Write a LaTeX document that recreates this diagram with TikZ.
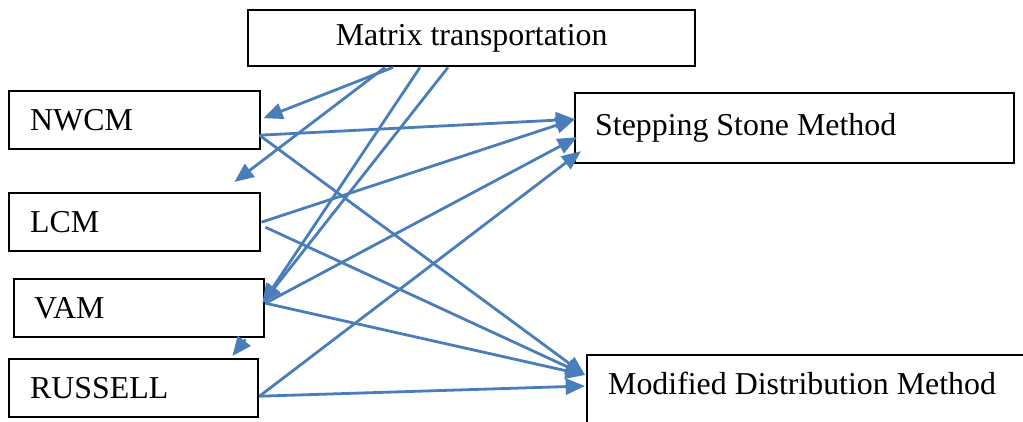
\documentclass[tikz,border=0pt]{standalone}
\usepackage{fontspec}
\setmainfont{Liberation Serif}
\usetikzlibrary{arrows.meta}
\definecolor{arrowblue}{RGB}{74,126,187}
\begin{document}
\begin{tikzpicture}[x=0.75pt,y=-0.75pt,
  box/.style={draw=black, line width=1.8pt, inner ysep=0pt, font=\fontsize{23.9}{28}\selectfont, anchor=north west, align=flush left},
  conn/.style={draw=arrowblue, line width=2.1pt, -{Triangle[length=14.5pt,width=12pt]}}]
\clip (0,0) rectangle (1023,421);
\useasboundingbox (0,0) rectangle (1023,421);
\fill[white] (0,0) rectangle (1023,421);

\node[box, align=flush center, minimum width=335.25pt, minimum height=42pt, inner xsep=7.6pt, text width=320pt] (mt) at (247,9) {Matrix transportation};
\node[box, minimum width=188.25pt, minimum height=43.5pt, inner xsep=15.75pt, text width=156.75pt] (nwcm) at (8,90) {NWCM};
\node[box, minimum width=188.25pt, minimum height=43.5pt, inner xsep=15.75pt, text width=156.75pt] (lcm) at (8,192) {LCM};
\node[box, minimum width=187.5pt, minimum height=43.5pt, inner xsep=15pt, text width=157.5pt] (vam) at (13,278) {VAM};
\node[box, minimum width=186.75pt, minimum height=43.5pt, inner xsep=15.75pt, text width=155.25pt] (russell) at (8,358) {RUSSELL};
\node[box, minimum width=329.25pt, minimum height=52.5pt, inner xsep=15pt, text width=299.25pt] (ssm) at (574,92) {Stepping Stone Method};
\node[box, minimum width=375pt, inner xsep=15.75pt, text width=343.5pt, text height=29.6pt, text depth=37.5pt] (mdm) at (586,354) {Modified Distribution Method};

% from Matrix transportation
\draw[conn] ([xshift=109.5pt]mt.south west) -- ([xshift=1.5pt,yshift=1.5pt]nwcm.east);
\draw[conn] ([xshift=103.5pt]mt.south west) -- ([xshift=-20.25pt,yshift=7.5pt]lcm.north east);
\draw[conn] ([xshift=129.75pt]mt.south west) -- ([xshift=-2.25pt,yshift=3.75pt]vam.east);
\draw[conn] ([xshift=150.75pt]mt.south west) -- ([xshift=-2.25pt,yshift=3.75pt]vam.east);
\draw[conn] ([xshift=-15pt,yshift=-0.75pt]vam.south east) -- ([xshift=-20.25pt,yshift=1.5pt]russell.north east);

% to Stepping Stone Method
\draw[conn] ([xshift=-1.5pt,yshift=-11.25pt]nwcm.east) -- ([xshift=0.75pt,yshift=6.75pt]ssm.west);
\draw[conn] (lcm.east) -- ([xshift=0.75pt,yshift=6.75pt]ssm.west);
\draw[conn] ([yshift=3.75pt]vam.east) -- ([xshift=2.25pt,yshift=-6.75pt]ssm.west);
\draw[conn] ([yshift=-6pt]russell.east) -- ([xshift=5.25pt,yshift=-17.25pt]ssm.west);

% to Modified Distribution Method
\draw[conn] ([xshift=-1.5pt,yshift=-11.25pt]nwcm.east) -- ([xshift=-0.75pt,yshift=-15.75pt]mdm.north west);
\draw[conn] ([xshift=3pt,yshift=-3.75pt]lcm.east) -- ([xshift=-0.75pt,yshift=-15.75pt]mdm.north west);
\draw[conn] ([yshift=3.75pt]vam.east) -- ([xshift=-0.75pt,yshift=-15.75pt]mdm.north west);
\draw[conn] ([yshift=-6pt]russell.east) -- ([xshift=-0.75pt,yshift=-24pt]mdm.north west);
\end{tikzpicture}
\end{document}
